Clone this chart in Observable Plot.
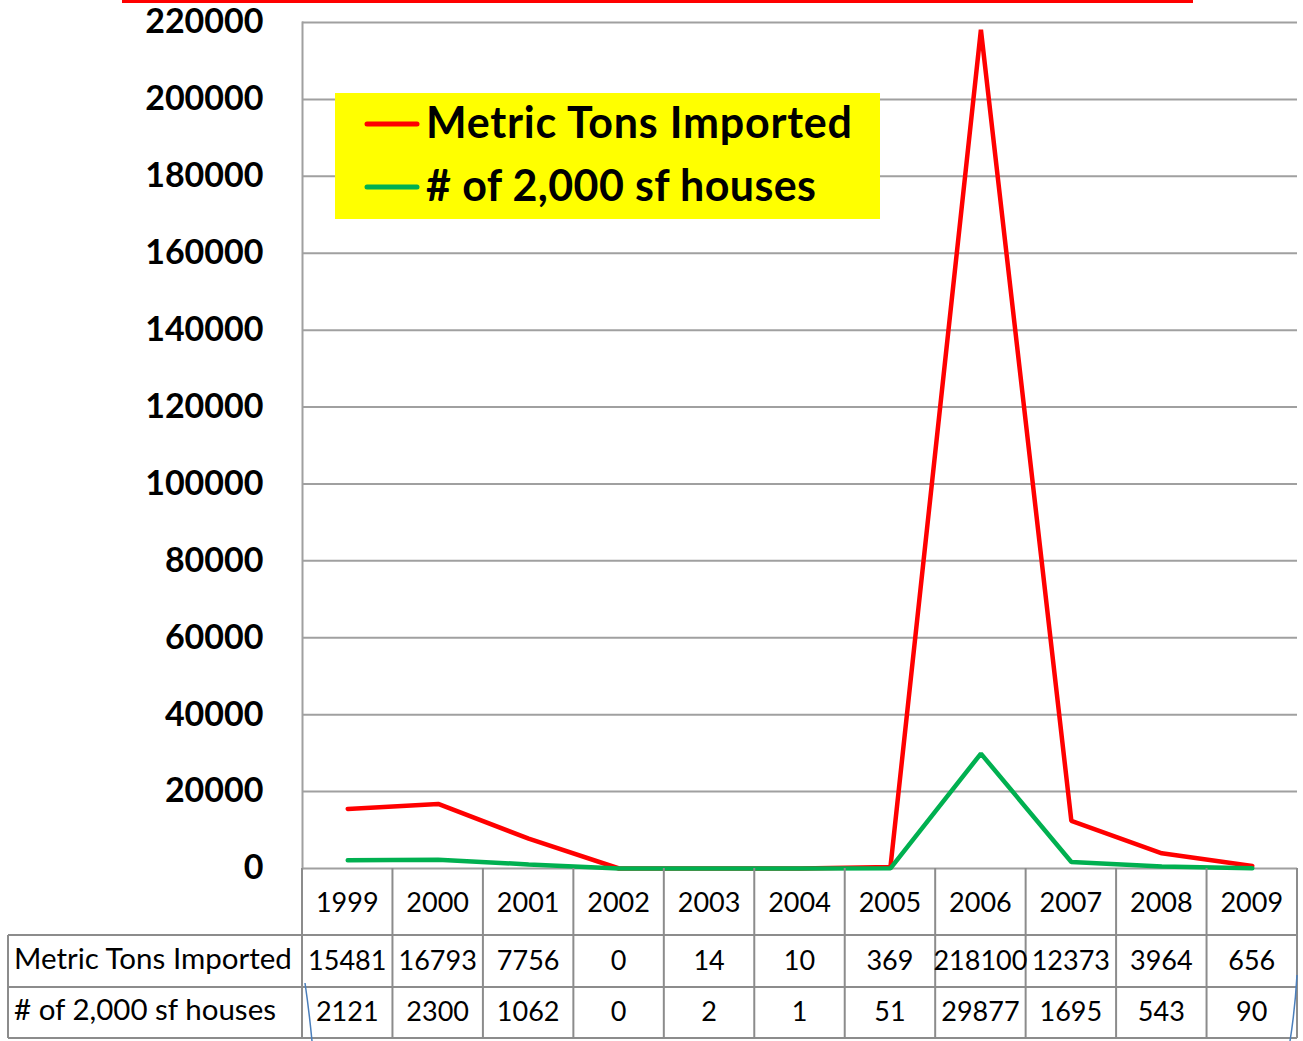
<!DOCTYPE html>
<html><head><meta charset="utf-8">
<script src="https://cdn.jsdelivr.net/npm/d3@7"></script>
<script src="https://cdn.jsdelivr.net/npm/@observablehq/plot@0.6"></script>
<style>
body{margin:0;background:#fff;}
#wrap{position:relative;width:1303px;height:1041px;overflow:hidden;background:#fff;font-family:Lato,"DejaVu Sans",sans-serif;}
#wrap > *{position:absolute;left:0;top:0;}
</style></head><body><div id="wrap"></div>
<script>
const years = ["1999","2000","2001","2002","2003","2004","2005","2006","2007","2008","2009"];
const metricTons = [15481, 16793, 7756, 0, 14, 10, 369, 218100, 12373, 3964, 656];
const houses = [2121, 2300, 1062, 0, 2, 1, 51, 29877, 1695, 543, 90];
const seriesNames = ["Metric Tons Imported", "# of 2,000 sf houses"];
const seriesColors = ["#ff0000", "#00b050"];
const yTicks = [0, 20000, 40000, 60000, 80000, 100000, 120000, 140000, 160000, 180000, 200000, 220000];

const rows = years.flatMap((yr, i) => [
  {year: yr, value: metricTons[i], series: seriesNames[0]},
  {year: yr, value: houses[i], series: seriesNames[1]}
]);

const wrap = document.getElementById("wrap");

// top red rule
const bar = document.createElement("div");
Object.assign(bar.style, {left: "122px", top: "0px", width: "1071px", height: "3px", background: "#ff0000"});
wrap.appendChild(bar);

const chart = Plot.plot({
  width: 1303, height: 870,
  marginTop: 22, marginBottom: 2, marginLeft: 302, marginRight: 6,
  style: {fontFamily: "Lato, sans-serif", background: "transparent", overflow: "visible"},
  x: {type: "point", domain: years, padding: 0.5, round: false, axis: null},
  y: {domain: [0, 220000]},
  color: {domain: seriesNames, range: seriesColors},
  marks: [
    Plot.ruleY(yTicks, {stroke: "#a0a0a0", strokeWidth: 2}),
    Plot.frame({anchor: "left", stroke: "#a0a0a0", strokeWidth: 2}),
    Plot.axisY({ticks: yTicks, tickSize: 0, tickPadding: 39, fontSize: 34, fontWeight: "bold",
      tickFormat: d => String(d), fill: "#000", label: null}),
    Plot.line(rows, {x: "year", y: "value", z: "series", stroke: "series", strokeWidth: 4.5, strokeLinejoin: "miter"})
  ]
});
wrap.appendChild(chart);

// data table driven by the chart's x scale
const xs = chart.scale("x");
const step = xs.apply(years[1]) - xs.apply(years[0]);
const left = xs.apply(years[0]) - step / 2;
const right = left + step * years.length;
const tTop = 868, r1 = 935, r2 = 987, r3 = 1038, tLeft = 8;

const tsvg = d3.create("svg").attr("width", 1303).attr("height", 1041)
  .style("font-family", "Lato, sans-serif");
const g = "#8c8c8c";
[r1, r2, r3].forEach(y => tsvg.append("line").attr("x1", tLeft).attr("x2", right).attr("y1", y).attr("y2", y).attr("stroke", g).attr("stroke-width", 2));
tsvg.append("line").attr("x1", tLeft).attr("x2", tLeft).attr("y1", r1).attr("y2", r3).attr("stroke", g).attr("stroke-width", 2);
for (let k = 0; k <= years.length; k++) {
  const x = left + k * step;
  tsvg.append("line").attr("x1", x).attr("x2", x).attr("y1", tTop).attr("y2", r3).attr("stroke", g).attr("stroke-width", 2);
}
years.forEach((yr, i) => {
  const cx = xs.apply(yr);
  tsvg.append("text").attr("x", cx).attr("y", 912).attr("text-anchor", "middle").attr("font-size", 27).text(yr);
  tsvg.append("text").attr("x", cx).attr("y", 970).attr("text-anchor", "middle").attr("font-size", 27).text(metricTons[i]);
  tsvg.append("text").attr("x", cx).attr("y", 1021).attr("text-anchor", "middle").attr("font-size", 27).text(houses[i]);
});
tsvg.append("text").attr("x", 14).attr("y", 969).attr("font-size", 29.5).text(seriesNames[0]);
tsvg.append("text").attr("x", 14).attr("y", 1020).attr("font-size", 29.5).text(seriesNames[1]);
// stray blue bracket strokes seen in the original
tsvg.append("path").attr("d", "M305,983 Q309,1010 312,1041").attr("fill", "none").attr("stroke", "#4a7ebb").attr("stroke-width", 1.5);
tsvg.append("path").attr("d", "M1297,975 Q1295,1010 1290,1041").attr("fill", "none").attr("stroke", "#4a7ebb").attr("stroke-width", 1.5);
wrap.appendChild(tsvg.node());

// legend
const lsvg = d3.create("svg").attr("width", 1303).attr("height", 260);
lsvg.append("rect").attr("x", 335).attr("y", 93).attr("width", 545).attr("height", 126).attr("fill", "#ffff00");
const legendTextWidths = [426, 390];
seriesNames.forEach((name, i) => {
  const cy = 124 + i * 63;
  lsvg.append("line").attr("x1", 367).attr("x2", 417).attr("y1", cy).attr("y2", cy)
    .attr("stroke", seriesColors[i]).attr("stroke-width", 5).attr("stroke-linecap", "round");
  lsvg.append("text").attr("x", 426).attr("y", cy + 14).attr("font-size", 43).attr("font-weight", "bold")
    .attr("font-family", "Lato, sans-serif").attr("fill", "#000")
    .attr("textLength", legendTextWidths[i]).attr("lengthAdjust", "spacing").text(name);
});
wrap.appendChild(lsvg.node());
</script></body></html>
